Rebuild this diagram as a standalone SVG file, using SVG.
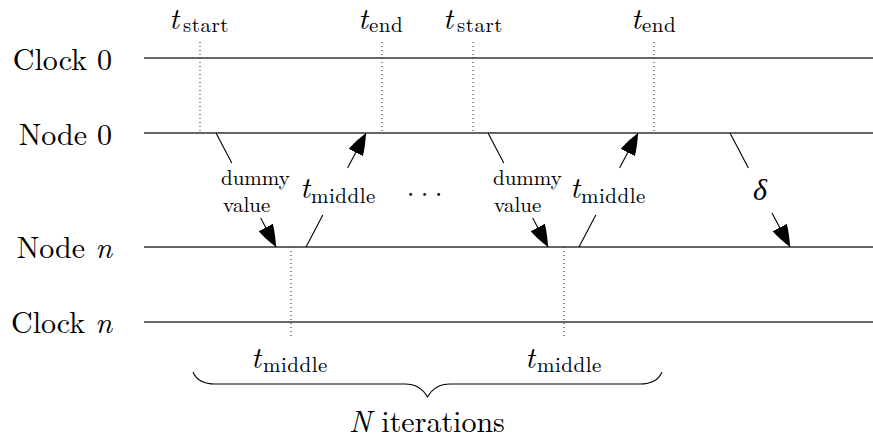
<svg xmlns="http://www.w3.org/2000/svg" width="873" height="441" viewBox="0 0 873 441" font-family="Latin Modern Roman, Liberation Serif, serif">
<style>
  .lbl { font-size: 30px; }
  .mi { font-size: 30px; font-style: italic; }
  .sub { font-size: 21px; font-style: normal; letter-spacing: 0.5px; }
  .small { font-size: 21px; }
  .track { stroke: #333; stroke-width: 1.5; fill: none; }
  .dot { stroke: #444; stroke-width: 1.2; stroke-dasharray: 1 3; fill: none; }
  .msg { stroke: #000; stroke-width: 1.1; fill: none; }
  .arr { marker-end: url(#head); }
</style>
<defs>
  <marker id="head" markerUnits="userSpaceOnUse" markerWidth="24" markerHeight="18" refX="22" refY="8" orient="auto">
    <path d="M0,0 Q10,2.4 22,8 Q10,13.6 0,16 Z" fill="#000"/>
  </marker>
</defs>
<rect width="873" height="441" fill="#fff"/>

<g id="clock0">
  <text class="lbl" x="112" y="70" text-anchor="end">Clock 0</text>
  <line class="track" x1="144" y1="58" x2="873" y2="58"/>
</g>
<g id="node0">
  <text class="lbl" x="112" y="145" text-anchor="end">Node 0</text>
  <line class="track" x1="144" y1="133" x2="873" y2="133"/>
</g>
<g id="noden">
  <text class="lbl" x="112" y="258" text-anchor="end">Node <tspan font-style="italic">n</tspan></text>
  <line class="track" x1="144" y1="247" x2="873" y2="247"/>
</g>
<g id="clockn">
  <text class="lbl" x="112" y="333" text-anchor="end">Clock <tspan font-style="italic">n</tspan></text>
  <line class="track" x1="144" y1="322" x2="873" y2="322"/>
</g>

<g id="markers">
  <line class="dot" x1="200" y1="42" x2="200" y2="133"/>
  <line class="dot" x1="382" y1="42" x2="382" y2="133"/>
  <line class="dot" x1="473" y1="42" x2="473" y2="133"/>
  <line class="dot" x1="654" y1="42" x2="654" y2="133"/>
  <line class="dot" x1="291" y1="247" x2="291" y2="338"/>
  <line class="dot" x1="564" y1="247" x2="564" y2="338"/>
  <text class="mi" x="169" y="29">t<tspan class="sub" x="183" y="32">start</tspan></text>
  <text class="mi" x="358" y="29">t<tspan class="sub" x="369" y="32">end</tspan></text>
  <text class="mi" x="443" y="29">t<tspan class="sub" x="457" y="32">start</tspan></text>
  <text class="mi" x="631" y="29">t<tspan class="sub" x="642" y="32">end</tspan></text>
  <text class="mi" x="251" y="368">t<tspan class="sub" x="263" y="372">middle</tspan></text>
  <text class="mi" x="525" y="368">t<tspan class="sub" x="537" y="372">middle</tspan></text>
</g>

<g id="connectors">
  <line class="msg" x1="216" y1="133" x2="231.8" y2="163"/>
  <line class="msg arr" x1="260.7" y1="218" x2="276" y2="247"/>
  <line class="msg" x1="306" y1="247" x2="322.8" y2="215"/>
  <line class="msg arr" x1="347.6" y1="168" x2="366" y2="133"/>
  <line class="msg" x1="488" y1="133" x2="503.8" y2="163"/>
  <line class="msg arr" x1="532.7" y1="218" x2="548" y2="247"/>
  <line class="msg" x1="579" y1="247" x2="595.8" y2="215"/>
  <line class="msg arr" x1="619.6" y1="168" x2="638" y2="133"/>
  <line class="msg" x1="730" y1="133" x2="748.4" y2="168"/>
  <line class="msg arr" x1="772" y1="213" x2="790" y2="247"/>
</g>

<g id="labels">
  <text class="small" x="221" y="185">dummy</text>
  <text class="small" x="223" y="212">value</text>
  <text class="mi" x="300" y="198">t<tspan class="sub" x="311" y="203">middle</tspan></text>
  <text class="small" x="493" y="185">dummy</text>
  <text class="small" x="494" y="212">value</text>
  <text class="mi" x="570" y="198">t<tspan class="sub" x="581" y="203">middle</tspan></text>
  <text class="mi" x="753" y="200">δ</text>
  <text x="400.4 414.4 428.4" y="203" font-size="26">···</text>
</g>

<g id="brace">
  <path class="msg" d="M193,372 Q198,384 215,384 L405,384 Q420,384 427.5,397 Q435,384 450,384 L640,384 Q657,384 662,372"/>
  <text class="lbl" x="427" y="432" text-anchor="middle" font-size="31"><tspan font-style="italic">N</tspan> iterations</text>
</g>
</svg>
